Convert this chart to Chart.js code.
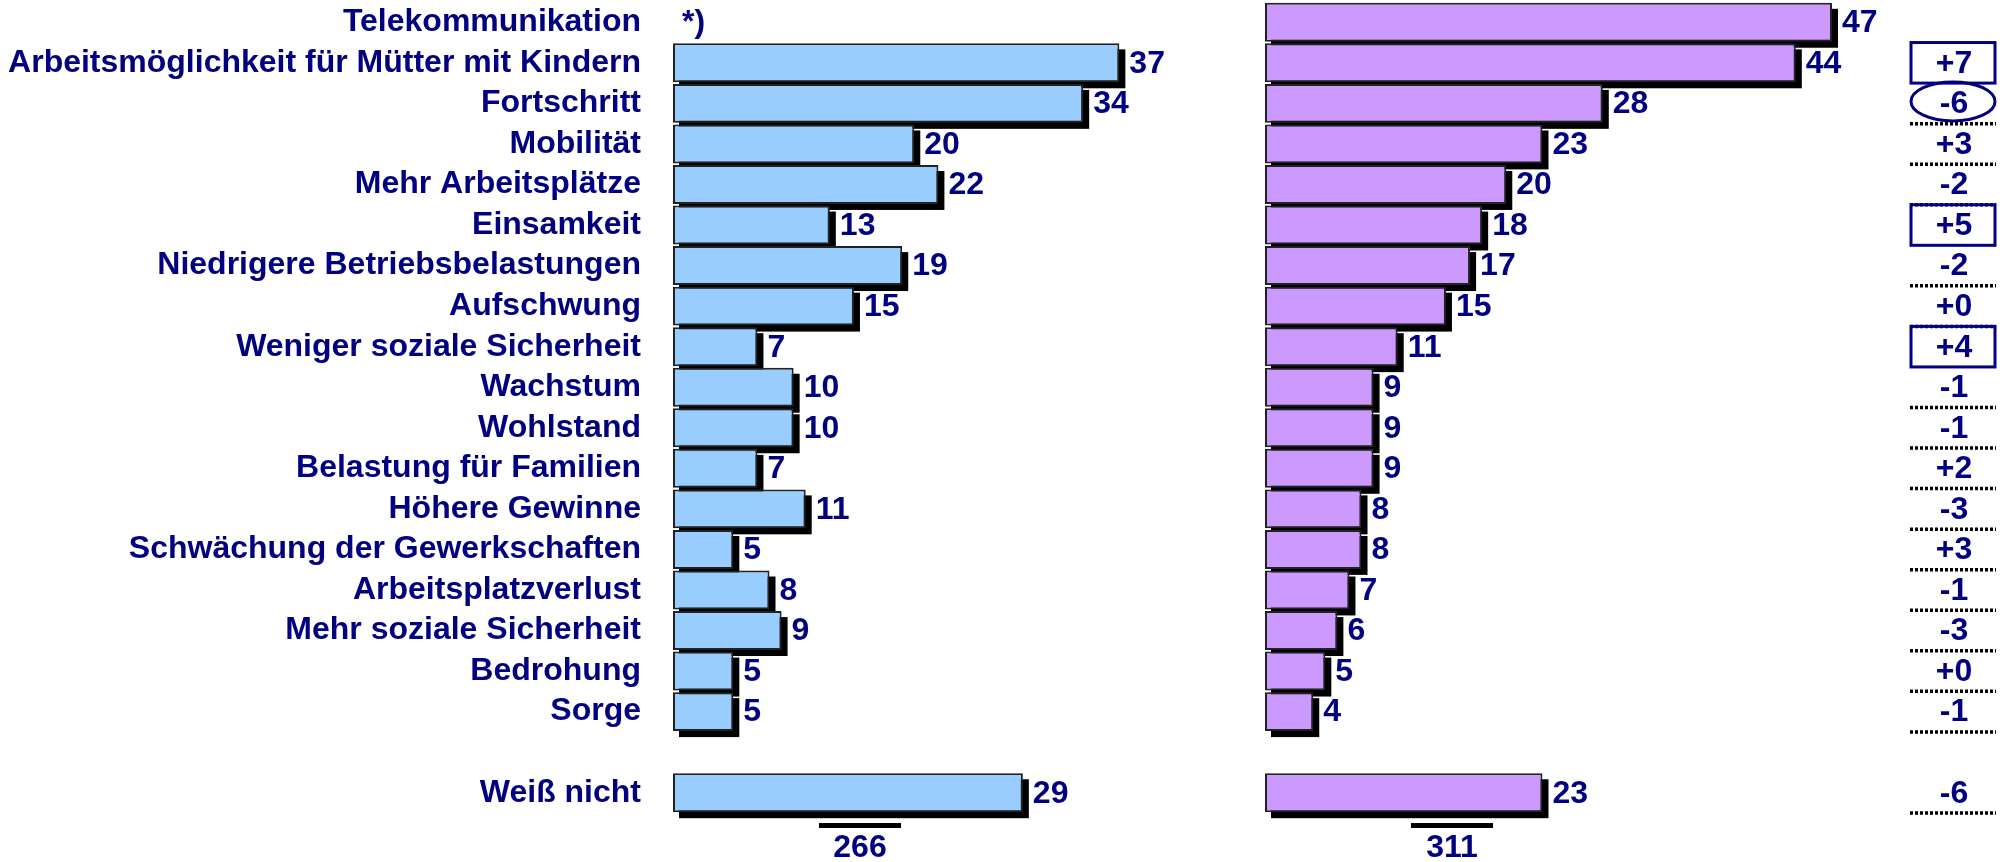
<!DOCTYPE html>
<html>
<head>
<meta charset="utf-8">
<title>Telekommunikation</title>
<script src="https://cdn.jsdelivr.net/npm/chart.js@4"></script>
<style>
  body { margin: 0; background: #fff; }
  #wrap { position: relative; width: 2010px; height: 862px; overflow: hidden; background: #fff; }
  #leftChart { position: absolute; left: 0; top: 0; }
  #rightChart { position: absolute; left: 1265px; top: 0; }
</style>
</head>
<body>
<div id="wrap">
  <canvas id="leftChart" width="1240" height="862"></canvas>
  <canvas id="rightChart" width="745" height="862"></canvas>
</div>
<script>
// data (row 18 is the empty spacer before "Weiß nicht")
const categories = ["Telekommunikation", "Arbeitsmöglichkeit für Mütter mit Kindern", "Fortschritt", "Mobilität",
    "Mehr Arbeitsplätze", "Einsamkeit", "Niedrigere Betriebsbelastungen", "Aufschwung", "Weniger soziale Sicherheit",
    "Wachstum", "Wohlstand", "Belastung für Familien", "Höhere Gewinne", "Schwächung der Gewerkschaften",
    "Arbeitsplatzverlust", "Mehr soziale Sicherheit", "Bedrohung", "Sorge", "", "Weiß nicht"];
const leftValues = [null, 37, 34, 20, 22, 13, 19, 15, 7, 10, 10, 7, 11, 5, 8, 9, 5, 5, null, 29];
const rightValues = [47, 44, 28, 23, 20, 18, 17, 15, 11, 9, 9, 9, 8, 8, 7, 6, 5, 4, null, 23];
const changes = ["", "+7", "-6", "+3", "-2", "+5", "-2", "+0", "+4", "-1", "-1", "+2", "-3", "+3", "-1", "-3", "+0", "-1", "", "-6"];
const boxedRows = [1, 5, 8];
const circledRows = [2];
const totals = [266, 311];
const leftNote = "*)";

const NAVY = "#000080";
const FONT = "bold 32px 'Liberation Sans', Arial, sans-serif";

// black drop shadow behind every bar
const shadowPlugin = {
    id: "shadow",
    beforeDatasetsDraw(chart) {
        const ctx = chart.ctx;
        const values = chart.data.datasets[0].data;
        ctx.save();
        ctx.fillStyle = "#000";
        chart.getDatasetMeta(0).data.forEach((bar, i) => {
            if (values[i] == null) return;
            const p = bar.getProps(["x", "y", "base", "height"], true);
            ctx.fillRect(p.base + 6, p.y - p.height / 2 + 6, p.x - p.base, p.height);
        });
        ctx.restore();
    }
};

// value labels, total under the panel
const labelPlugin = {
    id: "labels",
    afterDatasetsDraw(chart, args, opts) {
        const ctx = chart.ctx;
        const values = chart.data.datasets[0].data;
        const area = chart.chartArea;
        ctx.save();
        ctx.font = FONT;
        ctx.fillStyle = NAVY;
        ctx.textBaseline = "middle";
        ctx.textAlign = "left";
        chart.getDatasetMeta(0).data.forEach((bar, i) => {
            if (values[i] == null) return;
            ctx.fillText(values[i], bar.x + 10, bar.y + 1);
        });
        if (opts.note) {
            ctx.fillText(opts.note, area.left + 9, chart.scales.y.getPixelForValue(0) + 1);
        }
        // total
        const cx = area.left + 187;
        ctx.fillStyle = "#000";
        ctx.fillRect(cx - 41, area.bottom + 10, 82, 5);
        ctx.fillStyle = NAVY;
        ctx.textAlign = "center";
        ctx.fillText(opts.total, cx, area.bottom + 35);
        ctx.restore();
    }
};

// column with the changes on the far right
const changePlugin = {
    id: "changes",
    afterDraw(chart) {
        const ctx = chart.ctx;
        const y = chart.scales.y;
        const half = (y.getPixelForValue(1) - y.getPixelForValue(0)) / 2;
        const cx = chart.chartArea.right + 121;
        ctx.save();
        changes.forEach((txt, i) => {
            if (!txt || boxedRows.includes(i)) return;
            const cy = y.getPixelForValue(i);
            ctx.strokeStyle = "#000";
            ctx.lineWidth = 3.5;
            ctx.setLineDash([3, 2]);
            ctx.beginPath();
            ctx.moveTo(cx - 43, cy + half);
            ctx.lineTo(cx + 43, cy + half);
            ctx.stroke();
            ctx.setLineDash([]);
        });
        changes.forEach((txt, i) => {
            if (!txt) return;
            const cy = y.getPixelForValue(i);
            ctx.strokeStyle = NAVY;
            ctx.lineWidth = 3;
            if (boxedRows.includes(i)) {
                ctx.strokeRect(cx - 42, cy - half, 84, half * 2);
            }
            if (circledRows.includes(i)) {
                ctx.beginPath();
                ctx.ellipse(cx, cy - 2, 42, 19.5, 0, 0, Math.PI * 2);
                ctx.stroke();
            }
            ctx.font = FONT;
            ctx.fillStyle = NAVY;
            ctx.textAlign = "center";
            ctx.textBaseline = "middle";
            ctx.fillText(txt, cx + 1, cy + 1);
        });
        ctx.restore();
    }
};

function barDataset(values, color) {
    return {
        data: values,
        backgroundColor: color,
        borderColor: "#222",
        borderWidth: 2,
        borderSkipped: false,
        barPercentage: 0.96,
        categoryPercentage: 1
    };
}

function panelOptions(showLabels, rightPad, note, total) {
    return {
        responsive: false,
        animation: false,
        devicePixelRatio: 1,
        indexAxis: "y",
        layout: { padding: { top: 2, bottom: 49, left: 0, right: rightPad } },
        plugins: {
            legend: { display: false },
            tooltip: { enabled: false },
            labels: { note: note, total: total }
        },
        scales: {
            x: { display: false, min: 0, max: 47 },
            y: {
                display: showLabels,
                grid: { display: false },
                border: { display: false },
                ticks: {
                    color: NAVY,
                    font: { family: "'Liberation Sans', Arial, sans-serif", size: 32, weight: "bold" },
                    padding: 24,
                    autoSkip: false,
                    crossAlign: "near"
                },
                afterFit(scale) {
                    if (!showLabels) return;
                    scale.width = 673;
                    scale.paddingTop = 0;
                    scale.paddingBottom = 0;
                }
            }
        }
    };
}

new Chart(document.getElementById("leftChart").getContext("2d"), {
    type: "bar",
    data: { labels: categories, datasets: [barDataset(leftValues, "#99CCFF")] },
    options: panelOptions(true, 0, leftNote, totals[0]),
    plugins: [shadowPlugin, labelPlugin]
});

new Chart(document.getElementById("rightChart").getContext("2d"), {
    type: "bar",
    data: { labels: categories, datasets: [barDataset(rightValues, "#CC99FF")] },
    options: panelOptions(false, 178, "", totals[1]),
    plugins: [shadowPlugin, labelPlugin, changePlugin]
});
</script>
</body>
</html>
